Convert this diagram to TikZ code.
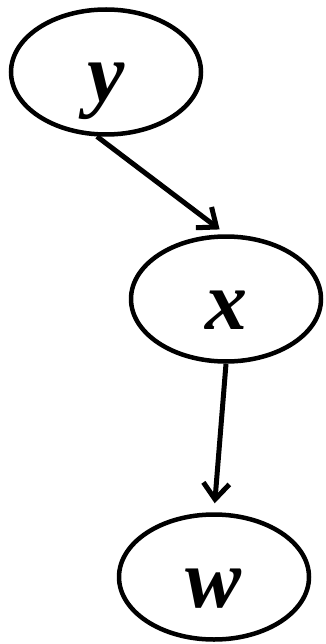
\documentclass[tikz,border=0pt]{standalone}
\usepackage{fontspec}
\setmainfont{Liberation Serif}
\usepackage{tikz}
\usetikzlibrary{arrows.meta,shapes.geometric}
\tikzset{
  var/.style={ellipse,draw=black,line width=4.5pt,minimum width=190pt,minimum height=125pt,
    inner sep=0pt,text height=60pt,text depth=0pt,font=\fontsize{84}{84}\selectfont\bfseries\itshape},
  dep/.style={-{Straight Barb[length=16pt,width=26pt]},line width=5pt},
}
\begin{document}
\begin{tikzpicture}[x=1pt,y=-1pt]
    \useasboundingbox (0,0) rectangle (325,644);
    \node[var] (y) at (106,72) {y};
    \node[var] (x) at (226,299) {x};
    \node[var] (w) at (214,577) {w};
    \draw[dep,shorten >=8pt] (y.262) -- (x.north);
    \draw[dep,shorten >=9pt] (x.south) -- (w.north);
  \end{tikzpicture}
\end{document}
